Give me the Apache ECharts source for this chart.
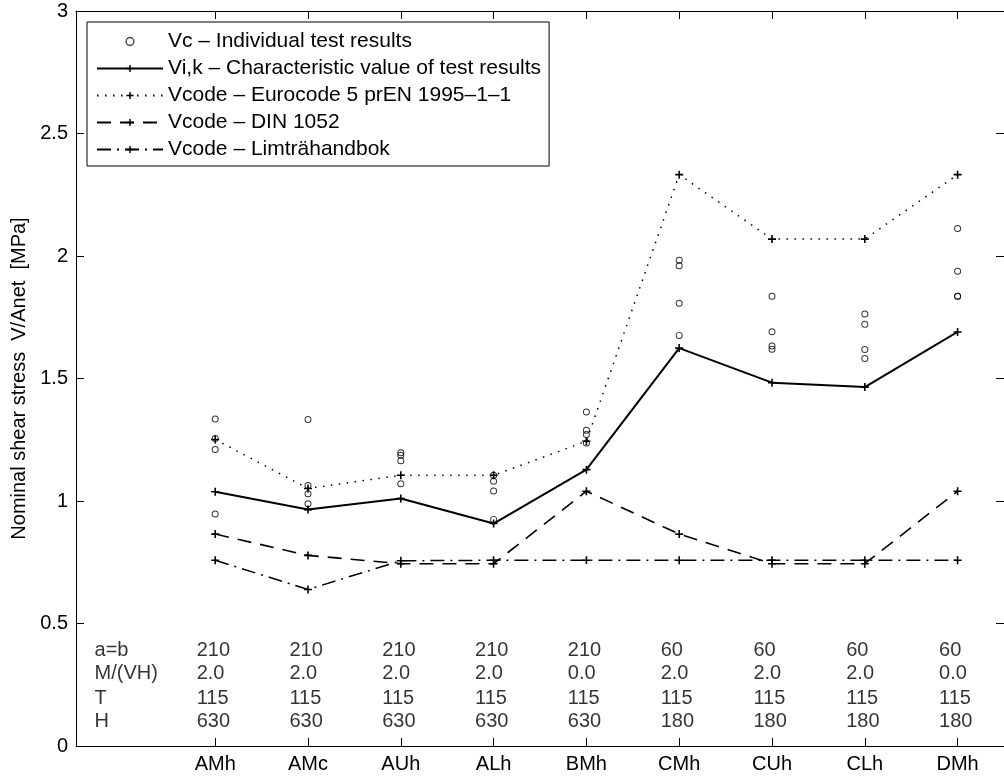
<!DOCTYPE html>
<html>
<head>
<meta charset="utf-8">
<title>Nominal shear stress</title>
<script src="https://cdn.jsdelivr.net/npm/echarts@6/dist/echarts.min.js"></script>
<style>
  html, body { margin: 0; padding: 0; background: #fff; }
  #chart { width: 1004px; height: 778px; }
</style>
</head>
<body>
<div id="chart"></div>
<script>
// categories and values
const categories = ['AMh', 'AMc', 'AUh', 'ALh', 'BMh', 'CMh', 'CUh', 'CLh', 'DMh'];

// Vc - individual test results, one list per category
const testResults = [
    [1.335, 1.255, 1.21, 0.947],
    [1.333, 1.063, 1.03, 0.989],
    [1.197, 1.187, 1.164, 1.07],
    [1.105, 1.081, 1.041, 0.925],
    [1.363, 1.289, 1.271, 1.237],
    [1.983, 1.96, 1.807, 1.676],
    [1.836, 1.691, 1.633, 1.619],
    [1.763, 1.721, 1.618, 1.582],
    [2.112, 1.938, 1.836, 1.836]
];
const charValue = [1.038, 0.965, 1.01, 0.908, 1.128, 1.624, 1.483, 1.465, 1.69];
const eurocode = [1.251, 1.051, 1.105, 1.105, 1.244, 2.332, 2.069, 2.069, 2.332];
const din1052 = [0.865, 0.778, 0.744, 0.744, 1.04, 0.865, 0.744, 0.744, 1.04];
const limtra = [0.758, 0.639, 0.756, 0.758, 0.758, 0.758, 0.758, 0.758, 0.758];

// table under the curves
const rowNames = ['a=b', 'M/(VH)', 'T', 'H'];
const tabAB = ['210', '210', '210', '210', '210', '60', '60', '60', '60'];
const tabMVH = ['2.0', '2.0', '2.0', '2.0', '0.0', '2.0', '2.0', '2.0', '0.0'];
const tabT = ['115', '115', '115', '115', '115', '115', '115', '115', '115'];
const tabH = ['630', '630', '630', '630', '630', '180', '180', '180', '180'];

const names = [
    'Vc \u2013 Individual test results',
    'Vi,k \u2013 Characteristic value of test results',
    'Vcode \u2013 Eurocode 5 prEN 1995\u20131\u20131',
    'Vcode \u2013 DIN 1052',
    'Vcode \u2013 Limtr\u00e4handbok'
];

const FONT = '"Liberation Sans", Arial, Helvetica, sans-serif';
const plus = 'path://M4,0H6V4H10V6H6V10H4V6H0V4H4Z';
const ring = 'path://M5,0A5,5,0,1,1,5,10A5,5,0,1,1,5,0ZM5,1.4A3.6,3.6,0,1,0,5,8.6A3.6,3.6,0,1,0,5,1.4Z';
const catX = categories.map((c, i) => i + 1);
const rowY = [0.39, 0.295, 0.195, 0.1];

let chart = echarts.init(document.getElementById('chart'));

// scatter points of tests
let vcData = [];
testResults.forEach(function (list, i) {
    list.forEach(function (v) { vcData.push([i + 1, v]); });
});

// table texts as data points so they sit on the chart scales
let tableData = [];
rowNames.forEach(function (n, r) { tableData.push([-0.3, rowY[r], n]); });
[tabAB, tabMVH, tabT, tabH].forEach(function (row, r) {
    row.forEach(function (t, i) { tableData.push([i + 1 - 0.2, rowY[r], t]); });
});

function lineSeries(name, values, lineType, width) {
    return {
        name: name,
        type: 'line',
        data: values.map((v, i) => [i + 1, v]),
        symbol: plus,
        symbolSize: 8,
        itemStyle: { color: '#000' },
        lineStyle: { color: '#000', width: width, type: lineType },
        z: 3
    };
}

// axis with ticks pointing inwards, like the original plot box
function boxAxis(extra) {
    return Object.assign({
        type: 'value',
        axisLine: { show: true, onZero: false, lineStyle: { color: '#000', width: 1 } },
        axisTick: { show: true, inside: true, length: 8, lineStyle: { color: '#000' } },
        splitLine: { show: false }
    }, extra);
}

let option = {
    animation: false,
    backgroundColor: '#fff',
    textStyle: { fontFamily: FONT, color: '#000' },
    grid: { left: 76, top: 11, width: 933, height: 735 },
    legend: {
        orient: 'vertical',
        left: 87,
        top: 22,
        itemWidth: 66,
        itemHeight: 9,
        itemGap: 6,
        padding: [9, 8, 6, 9],
        borderColor: '#000',
        borderWidth: 1,
        borderRadius: 0,
        backgroundColor: '#fff',
        textStyle: { fontSize: 21, color: '#000', fontFamily: FONT },
        selectedMode: false,
        data: [
            { name: names[0], icon: ring },
            names[1], names[2], names[3], names[4]
        ]
    },
    xAxis: [
        boxAxis({
            min: -0.5, max: 9.5, position: 'bottom',
            axisTick: { show: true, inside: true, length: 8, customValues: catX, lineStyle: { color: '#000' } },
            axisLabel: {
                customValues: catX,
                formatter: v => categories[v - 1],
                fontSize: 20, color: '#000', fontFamily: FONT, margin: 8
            }
        }),
        boxAxis({
            min: -0.5, max: 9.5, position: 'top',
            axisTick: { show: true, inside: true, length: 8, customValues: catX, lineStyle: { color: '#000' } },
            axisLabel: { show: false }
        })
    ],
    yAxis: [
        boxAxis({
            min: 0, max: 3, interval: 0.5, position: 'left',
            name: 'Nominal shear stress  V/Anet  [MPa]',
            nameLocation: 'middle',
            nameGap: 44,
            nameTextStyle: { fontSize: 20, color: '#000', fontFamily: FONT },
            axisLabel: { fontSize: 20, color: '#000', fontFamily: FONT, margin: 8 }
        }),
        boxAxis({
            min: 0, max: 3, interval: 0.5, position: 'right',
            axisLabel: { show: false }
        })
    ],
    series: [
        {
            name: names[0],
            type: 'scatter',
            data: vcData,
            symbol: ring,
            symbolSize: 7,
            itemStyle: { color: '#000' },
            z: 4
        },
        lineSeries(names[1], charValue, 'solid', 2),
        lineSeries(names[2], eurocode, [1.5, 6.5], 1.5),
        lineSeries(names[3], din1052, [14, 9], 1.6),
        lineSeries(names[4], limtra, [14, 6, 2, 6], 1.5),
        {
            name: 'table',
            type: 'scatter',
            data: tableData,
            symbolSize: 0,
            silent: true,
            label: {
                show: true,
                position: 'right',
                distance: 0,
                formatter: p => p.value[2],
                fontSize: 20,
                color: '#000',
                fontFamily: FONT
            }
        }
    ]
};

chart.setOption(option);
</script>
</body>
</html>
